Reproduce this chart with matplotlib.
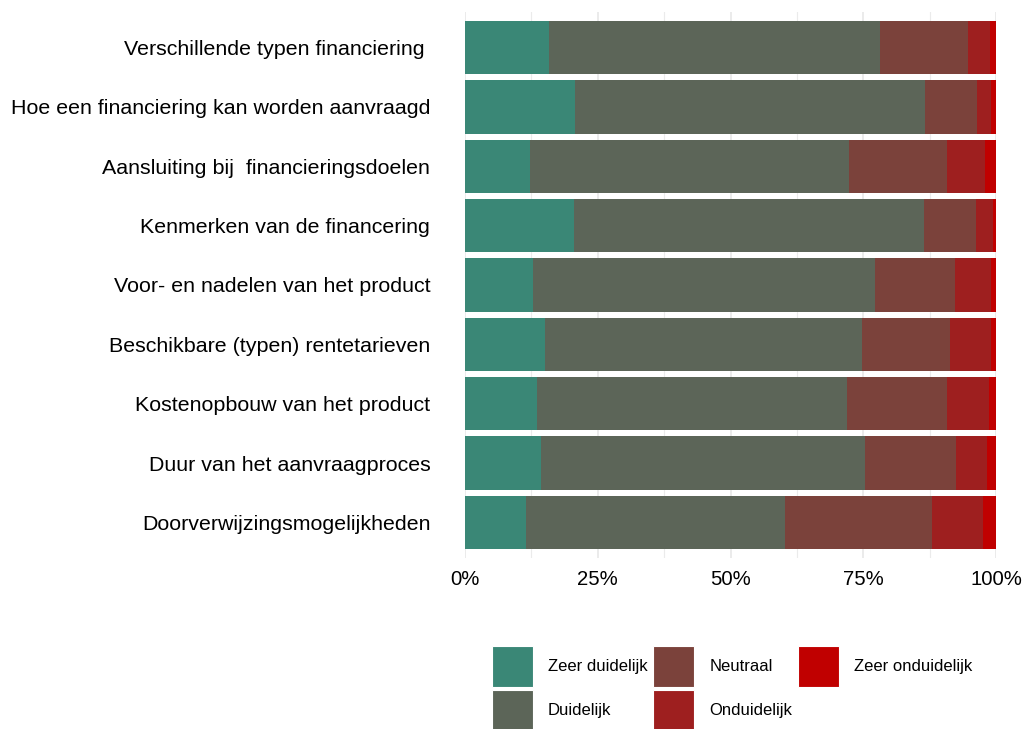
import matplotlib.pyplot as plt
import numpy as np
from matplotlib.patches import Patch

plt.rcParams["font.family"] = ["Liberation Sans", "DejaVu Sans"]

# categories top -> bottom
categories = [
    "Verschillende typen financiering ",
    "Hoe een financiering kan worden aanvraagd",
    "Aansluiting bij  financieringsdoelen",
    "Kenmerken van de financering",
    "Voor- en nadelen van het product",
    "Beschikbare (typen) rentetarieven",
    "Kostenopbouw van het product",
    "Duur van het aanvraagproces",
    "Doorverwijzingsmogelijkheden",
]

# percentages per answer
zeer_duidelijk = [15.9, 20.7, 12.3, 20.5, 12.8, 15.0, 13.5, 14.3, 11.5]
duidelijk = [62.3, 66.0, 60.0, 65.9, 64.4, 59.7, 58.5, 61.0, 48.8]
neutraal = [16.6, 9.7, 18.5, 9.8, 15.0, 16.7, 18.8, 17.1, 27.6]
onduidelijk = [4.0, 2.6, 7.2, 3.3, 6.9, 7.7, 7.8, 6.0, 9.7]
zeer_onduidelijk = [1.2, 1.0, 2.0, 0.5, 0.9, 0.9, 1.4, 1.6, 2.4]

series_names = ["Zeer duidelijk", "Duidelijk", "Neutraal", "Onduidelijk", "Zeer onduidelijk"]
series = [zeer_duidelijk, duidelijk, neutraal, onduidelijk, zeer_onduidelijk]
colors = ["#3a8776", "#5c6558", "#7b423b", "#9e1f1f", "#c00000"]

fig = plt.figure(figsize=(10.25, 7.29), dpi=100)
ax = fig.add_axes([0.4537, 0.2346, 0.518, 0.749])

y = np.arange(len(categories))
left = np.zeros(len(categories))
for name, vals, col in zip(series_names, series, colors):
    vals = np.array(vals)
    ax.barh(y, vals, left=left, height=0.9, color=col, label=name, zorder=2)
    left += vals

ax.set_xlim(0, 100)
ax.set_ylim(len(categories) - 0.4, -0.6)

# grid
ax.set_xticks([0, 25, 50, 75, 100])
ax.set_xticks([12.5, 37.5, 62.5, 87.5], minor=True)
ax.set_xticklabels(["0%", "25%", "50%", "75%", "100%"])
ax.grid(axis="x", which="major", color="#ebebeb", linewidth=1.4, zorder=0)
ax.grid(axis="x", which="minor", color="#ebebeb", linewidth=0.8, zorder=0)
ax.set_yticks(y)
ax.set_yticklabels(categories)
ax.tick_params(axis="y", length=0, pad=25, labelsize=15.4)
ax.tick_params(axis="x", which="both", length=0, pad=9, labelsize=14.6)
for s in ax.spines.values():
    s.set_visible(False)

handles = [Patch(facecolor=c, edgecolor="white", linewidth=0.8) for c in colors]
fig.legend(
    handles,
    series_names,
    loc="upper left",
    bbox_to_anchor=(492 / 1025, 1 - 646 / 729),
    ncol=3,
    frameon=False,
    fontsize=12,
    handlelength=2.46,
    handleheight=3.41,
    handletextpad=0.9,
    labelspacing=0.18,
    columnspacing=0.35,
    borderpad=0,
    borderaxespad=0,
)

fig.savefig("out.png", dpi=100)
